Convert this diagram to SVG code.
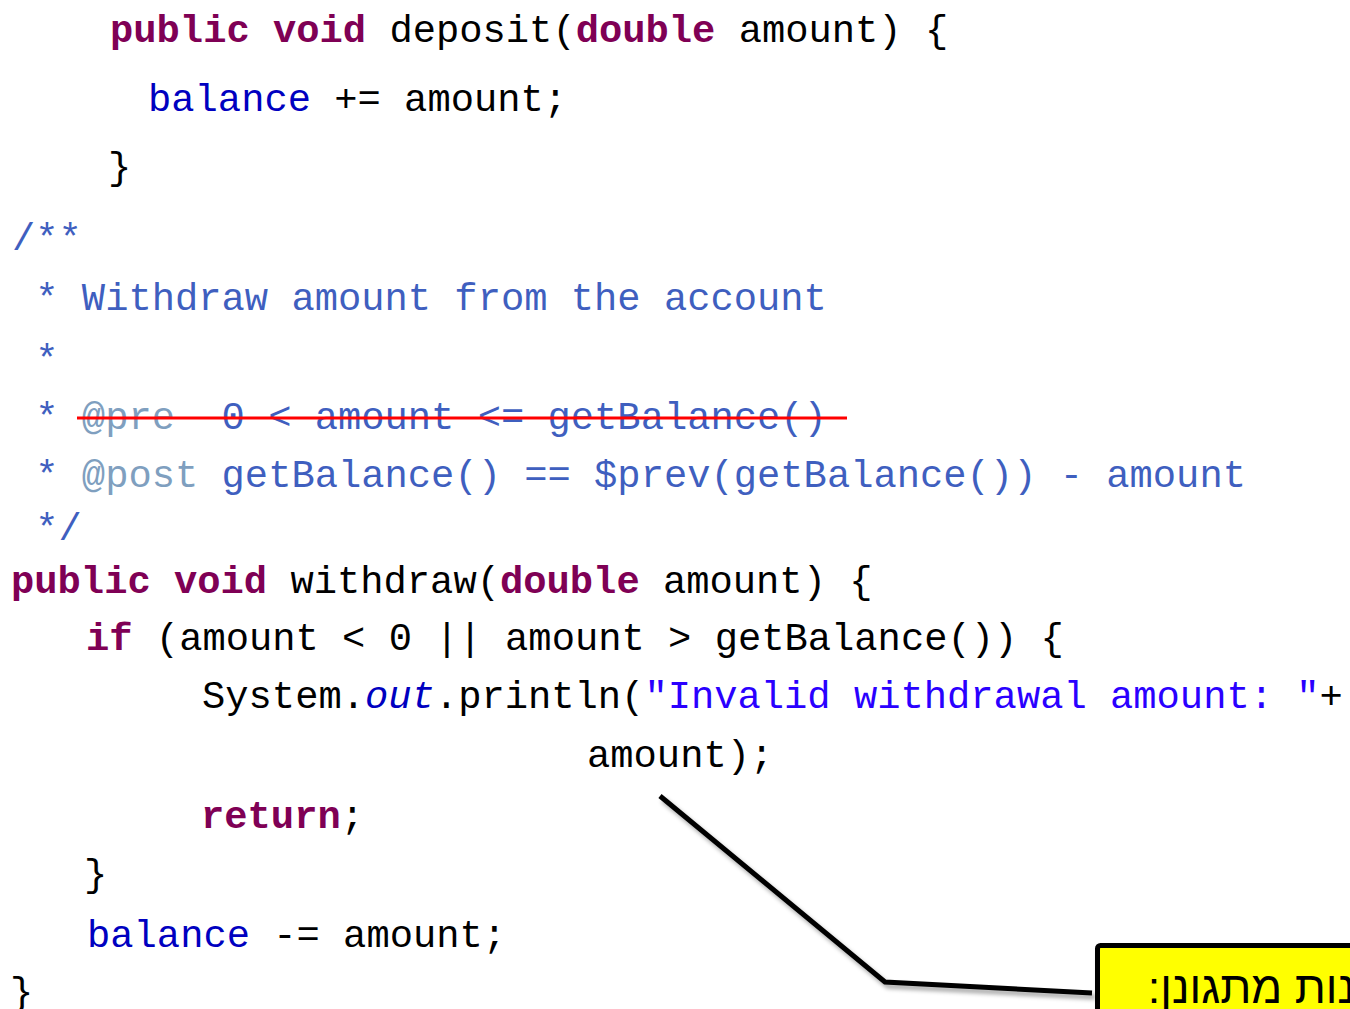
<svg xmlns="http://www.w3.org/2000/svg" width="1350" height="1009" viewBox="0 0 1350 1009">
<style>
.code{font-family:"Liberation Mono","DejaVu Sans Mono",monospace;font-size:38.8px;fill:#000000;white-space:pre}
.kw{fill:#7F0055;font-weight:bold}
.fld{fill:#0000C0}
.doc{fill:#3F5FBF}
.tag{fill:#7F9FBF}
.str{fill:#2A00FF}
.it{font-style:italic;fill:#0000C0}
.heb{font-family:"Liberation Sans","DejaVu Sans",sans-serif;font-size:45px;fill:#000000}
</style>
<defs>
<filter id="sh" x="-10%" y="-10%" width="130%" height="130%">
<feDropShadow dx="3" dy="4" stdDeviation="2" flood-color="#000000" flood-opacity="0.35"/>
</filter>
</defs>
<rect x="0" y="0" width="1350" height="1009" fill="#ffffff"/>
<g id="code" class="code">
<text x="110" y="42"><tspan class="kw">public</tspan>&#160;<tspan class="kw">void</tspan>&#160;deposit(<tspan class="kw">double</tspan>&#160;amount)&#160;{</text>
<text x="148" y="111"><tspan class="fld">balance</tspan>&#160;+=&#160;amount;</text>
<text x="108" y="179">}</text>
<text x="12" y="250" class="doc">/**</text>
<text x="12" y="310" class="doc">&#160;*&#160;Withdraw&#160;amount&#160;from&#160;the&#160;account</text>
<text x="12" y="371" class="doc">&#160;*</text>
<text x="12" y="429" class="doc">&#160;*&#160;<tspan class="tag">@pre</tspan>&#160;&#160;0&#160;&lt;&#160;amount&#160;&lt;=&#160;getBalance()</text>
<text x="12" y="487" class="doc">&#160;*&#160;<tspan class="tag">@post</tspan>&#160;getBalance()&#160;==&#160;$prev(getBalance())&#160;-&#160;amount</text>
<text x="12" y="540" class="doc">&#160;*/</text>
<text x="11" y="593"><tspan class="kw">public</tspan>&#160;<tspan class="kw">void</tspan>&#160;withdraw(<tspan class="kw">double</tspan>&#160;amount)&#160;{</text>
<text x="86" y="650"><tspan class="kw">if</tspan>&#160;(amount&#160;&lt;&#160;0&#160;||&#160;amount&#160;&gt;&#160;getBalance())&#160;{</text>
<text x="202" y="708">System.<tspan class="it">out</tspan>.println(<tspan class="str">"Invalid&#160;withdrawal&#160;amount:&#160;"</tspan>+</text>
<text x="587" y="767">amount);</text>
<text x="201" y="828"><tspan class="kw">return</tspan>;</text>
<text x="84" y="886">}</text>
<text x="87" y="947"><tspan class="fld">balance</tspan>&#160;-=&#160;amount;</text>
<text x="10" y="1004">}</text>
</g>
<line id="strike" x1="77" y1="418" x2="847" y2="418" stroke="#FF0000" stroke-width="3"/>
<g id="connectors">
<polyline points="660,796 885,982 1092,993" fill="none" stroke="#000000" stroke-width="5" filter="url(#sh)"/>
</g>
<g id="callout">
<rect x="1097.5" y="945.5" width="270" height="90" rx="3" fill="#FFFF00" stroke="#000000" stroke-width="5" filter="url(#sh)"/>
<text class="heb" x="1355" y="1003" direction="rtl" text-anchor="start">נות מתגונן:</text>
</g>
</svg>
